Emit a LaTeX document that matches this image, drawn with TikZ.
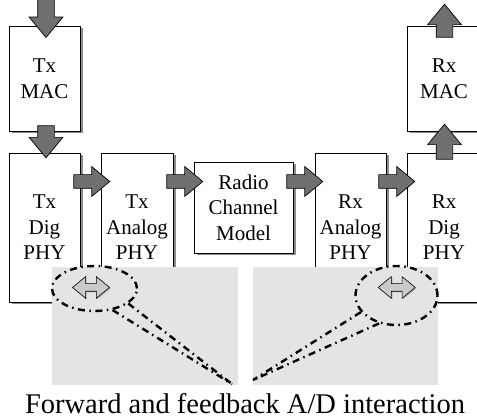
\documentclass[tikz,border=0pt]{standalone}
\usepackage{fontspec}
\setmainfont{Liberation Serif}
\usetikzlibrary{positioning,calc,shapes.arrows,shapes.geometric,shadows}
\definecolor{PanelGray}{HTML}{E4E4E4}
\definecolor{ArrowGray}{HTML}{707070}
\definecolor{LinkGray}{HTML}{CACACA}

\begin{document}
\begin{tikzpicture}[x=1pt,y=1pt,
  blk/.style={draw,line width=0.9pt,fill=white,align=center,inner sep=0pt,
    font=\fontsize{21}{25.5}\selectfont,
    drop shadow={shadow xshift=2.5pt,shadow yshift=-2.5pt,fill=black,opacity=.45}},
  fat/.style={single arrow,draw,line width=0.7pt,fill=ArrowGray,inner xsep=0pt,
    single arrow tip angle=79,anchor=tail},
  fath/.style={fat,inner ysep=6.5pt,single arrow head extend=8pt,minimum height=36pt},
  fatv/.style={fat,inner ysep=8pt,single arrow head extend=8.5pt},
  ad/.style={double arrow,draw,line width=0.6pt,fill=LinkGray,inner xsep=0pt,
    inner ysep=3.5pt,double arrow head extend=7pt,double arrow tip angle=79,
    minimum height=37pt,
    drop shadow={shadow xshift=1.2pt,shadow yshift=-1.2pt,opacity=.4}},
  zoomring/.style={draw,line width=2.4pt,dash pattern=on 7pt off 4.5pt on 1.5pt off 4.5pt}]
  \useasboundingbox (0,0) rectangle (477,418);

  % MAC and PHY blocks
  \node[blk,minimum width=71pt,minimum height=105pt] (txmac) at (44.5,339.5) {Tx\\MAC};
  \node[blk,minimum width=71pt,minimum height=149pt] (txdig) at (44.5,190.5) {Tx\\Dig\\PHY};
  \node[blk,minimum width=72pt,minimum height=149pt] (txana) at (137,190.5) {Tx\\Analog\\PHY};
  \node[blk,minimum width=99pt,minimum height=91pt] (chan) at (243.5,210.5) {Radio\\Channel\\Model};
  \node[blk,minimum width=71pt,minimum height=149pt] (rxana) at (350.5,190.5) {Rx\\Analog\\PHY};
  \node[blk,minimum width=74pt,minimum height=149pt] (rxdig) at (444,190.5) {Rx\\Dig\\PHY};
  \node[blk,minimum width=74pt,minimum height=105pt] (rxmac) at (444,339.5) {Rx\\MAC};

  % data path
  \coordinate (row) at (0,236.5);
  \node[fath] (a1) at ($(txdig.east |- row)+(-7,0)$) {};
  \node[fath] (a2) at ($(txana.east |- row)+(-7,0)$) {};
  \node[fath] (a3) at ($(chan.east |- row)+(-7,0)$) {};
  \node[fath] (a4) at ($(rxana.east |- row)+(-8,0)$) {};
  \node[fatv,rotate=-90,minimum height=40pt] (in) at ($(txmac.north)+(1.5,28.4)$) {};
  \node[fatv,rotate=-90,minimum height=32pt] (m1) at ($(txmac.south)+(1.5,6)$) {};
  \node[fatv,rotate=90,minimum height=35pt] (m2) at ($(rxdig.north)+(0.5,-7)$) {};
  \node[fatv,rotate=90,minimum height=33pt] (out) at ($(rxmac.north)+(0.5,-12)$) {};

  % A/D interaction close-ups
  \fill[PanelGray] (52,33) rectangle (238,151);
  \fill[PanelGray] (253,33) rectangle (438,151);
  \node[ad] (lad) at ($(txdig.south east)!.5!(txana.south west)+(0.5,15)$) {};
  \node[ad] (rad) at ($(rxana.south east)!.5!(rxdig.south west)+(0.2,15)$) {};
  \node[zoomring,ellipse,minimum width=85pt,minimum height=45pt] (lzoom) at (94.5,129.5) {};
  \node[zoomring,ellipse,minimum width=82pt,minimum height=59pt] (rzoom) at (396.5,122.5) {};
  \coordinate (lfoc) at (232,34);
  \coordinate (rfoc) at (253,38);
  \draw[zoomring] (lzoom.-24) -- (lfoc) (lzoom.-50) -- (lfoc);
  \draw[zoomring] (rzoom.205) -- (rfoc) (rzoom.238) -- (rfoc);

  \node[anchor=base,inner sep=0pt,font=\fontsize{28.5}{32}\selectfont] (caption) at (245,5)
    {Forward and feedback A/D interaction};
\end{tikzpicture}
\end{document}
